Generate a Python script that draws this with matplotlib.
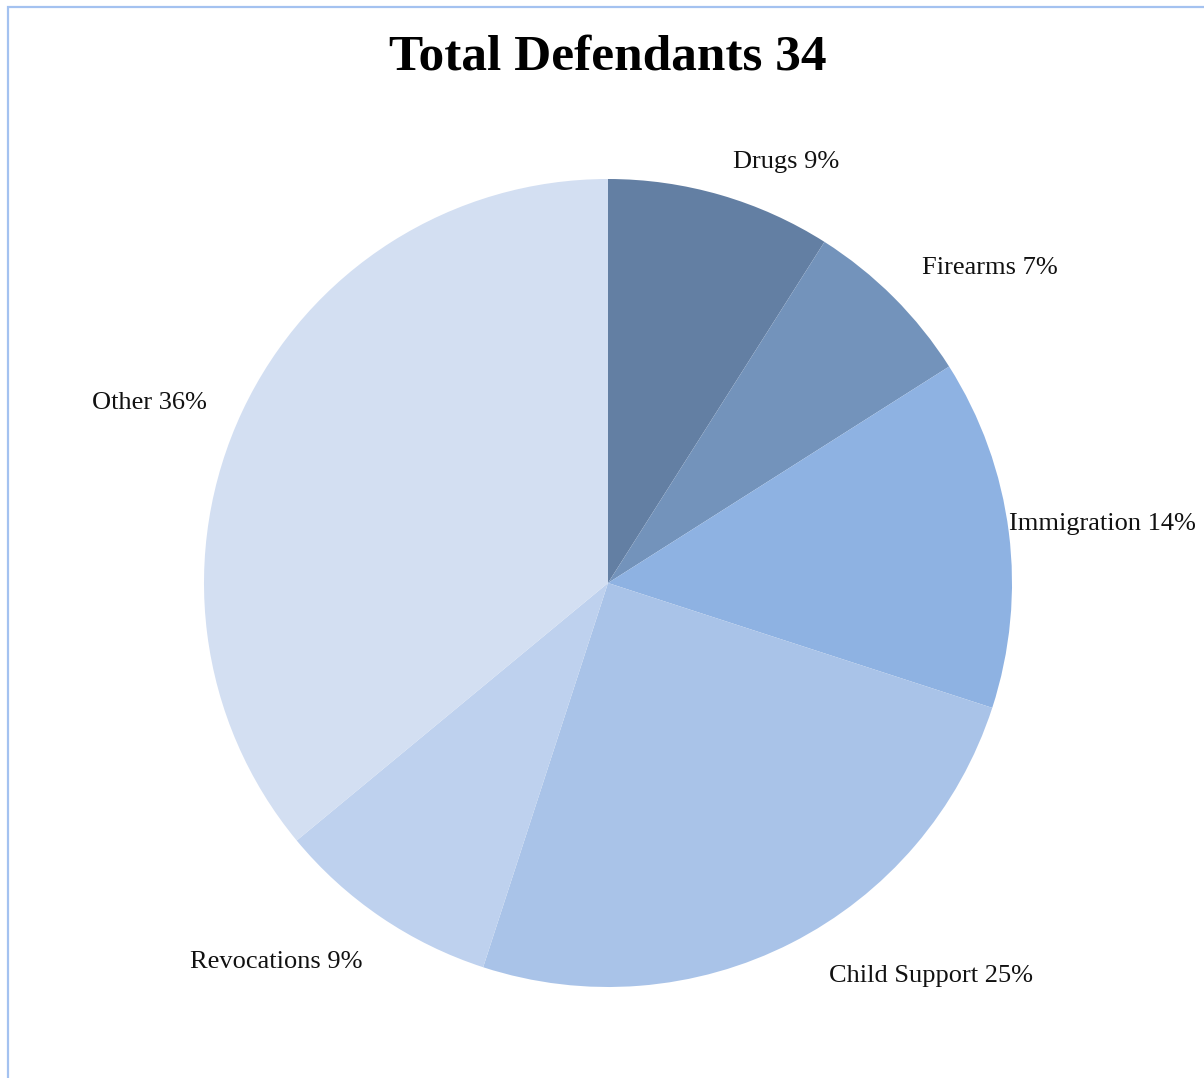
import matplotlib
matplotlib.use("Agg")
import matplotlib.pyplot as plt
from matplotlib.patches import Rectangle

# Share of defendants by offense type (percent)
categories = ["Drugs", "Firearms", "Immigration", "Child Support", "Revocations", "Other"]
shares = [9, 7, 14, 25, 9, 36]
title = "Total Defendants 34"

colors = ["#637fa3", "#7393bb", "#8eb2e2", "#a9c3e8", "#bed1ee", "#d3dff2"]

W, H = 1204, 1078
fig = plt.figure(figsize=(W / 100, H / 100), dpi=100)
ax = fig.add_axes([0, 0, 1, 1])

ax.pie(shares, colors=colors, startangle=90, counterclock=False,
       center=(608, H - 583), radius=404,
       wedgeprops=dict(linewidth=0))

# pie() resets the view limits, so fix the pixel-based frame afterwards
ax.set_xlim(0, W)
ax.set_ylim(0, H)
ax.set_aspect("equal")
ax.axis("off")

# chart frame (right and bottom edges run past the canvas)
ax.add_patch(Rectangle((7.5, -20), W + 40, H - 6.5 + 20, fill=False,
                       edgecolor="#a4c2f0", linewidth=1.6, zorder=0))

label_pos = [(786, 162), (990, 268), (1102, 524), (931, 976), (276, 962), (149, 403)]
font = "Liberation Serif"
for name, val, (px, py) in zip(categories, shares, label_pos):
    ax.text(px, H - py, f"{name} {val}%", ha="center", va="center",
            fontsize=19, family=font, color="#111111")

ax.text(608, H - 58, title, ha="center", va="center", fontsize=37,
        fontweight="bold", family=font, color="#000000")

fig.savefig("out.png", dpi=100)
